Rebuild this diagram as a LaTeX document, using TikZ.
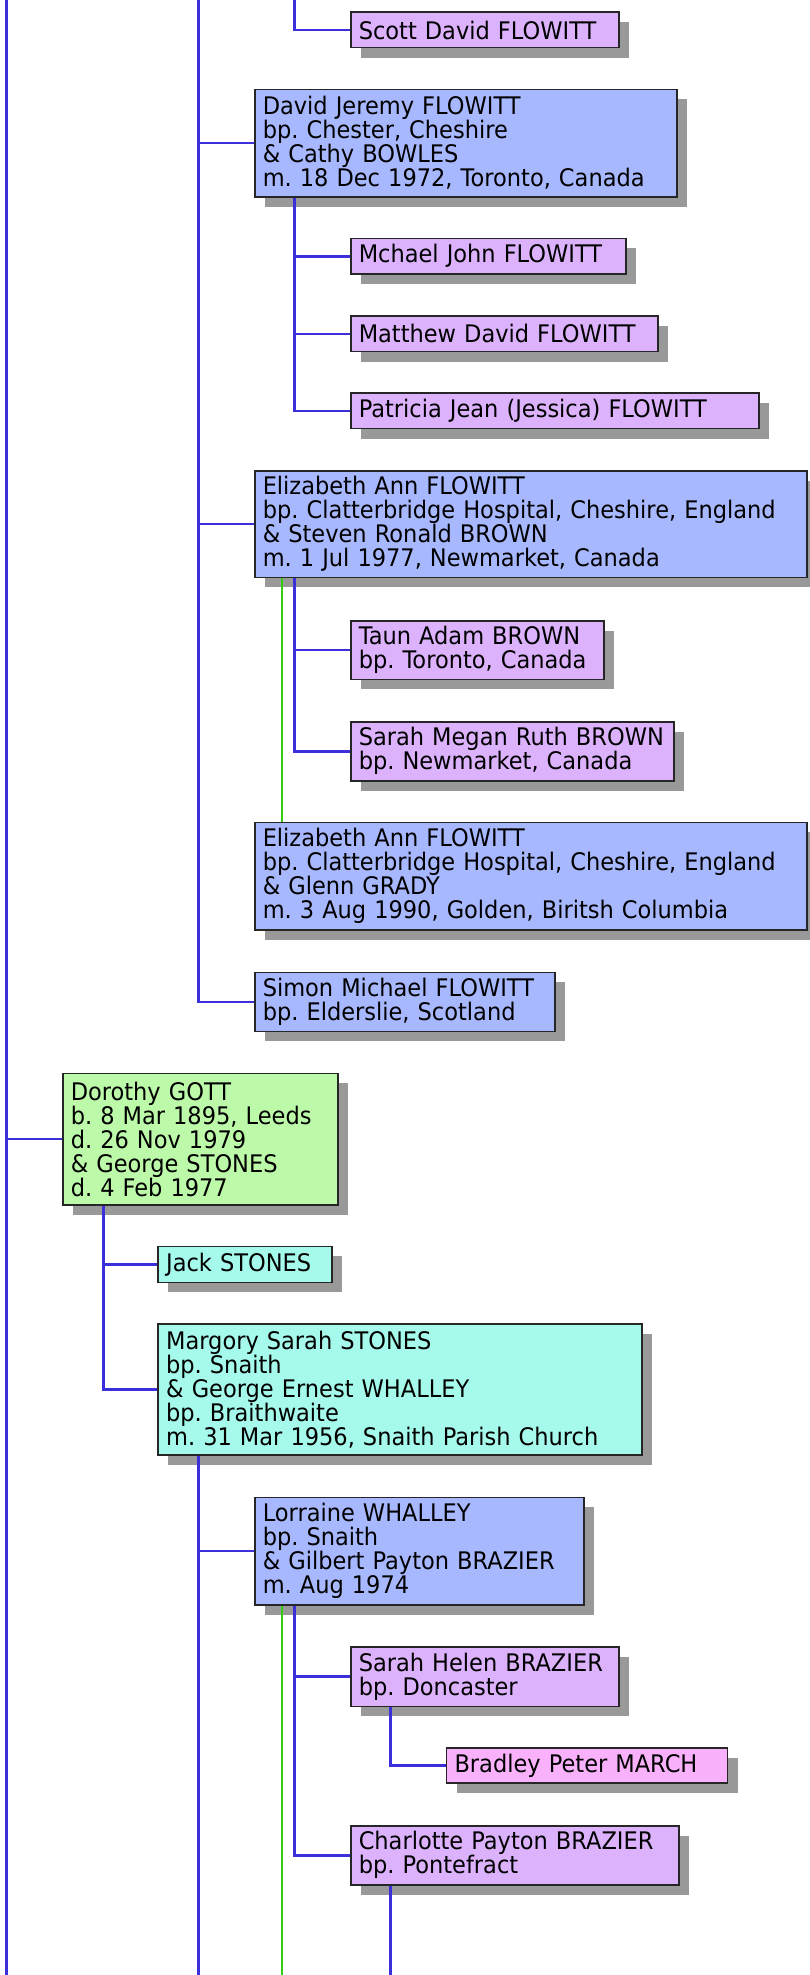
\documentclass[tikz,border=0pt]{standalone}
\usepackage{fontspec}
\setmainfont{DejaVu Sans}[FakeStretch=0.93]
\usetikzlibrary{calc,shadows}
\definecolor{kidpurple}{HTML}{DCB2FD}
\definecolor{famblue}{HTML}{A8B8FE}
\definecolor{famgreen}{HTML}{BCFAA9}
\definecolor{famcyan}{HTML}{A6FAEC}
\definecolor{kidpink}{HTML}{F8B1FA}
\definecolor{linkblue}{HTML}{3B2FDB}
\definecolor{linkgreen}{HTML}{33CC11}
\frenchspacing

\begin{document}
\begin{tikzpicture}[x=1pt,y=-1pt,
  person/.style={draw=black!85,line width=1.5pt,anchor=north west,align=left,
    inner xsep=8pt,inner ysep=0pt,font=\fontsize{24.2}{24}\selectfont,
    drop shadow={shadow xshift=10pt,shadow yshift=-10pt,fill=black!40,opacity=1}},
  kin/.style={draw=linkblue,line width=2.6pt},
  rekin/.style={draw=linkgreen,line width=2.4pt}]
\useasboundingbox (0,0) rectangle (809,1975);

\draw node [person,fill=kidpurple,text width=252pt,minimum height=35.5pt] (scott) at (350,11.5) {Scott David FLOWITT};
\draw node [person,fill=famblue,text width=406pt,minimum height=107.5pt] (david) at (254,88.5) {David Jeremy FLOWITT\\bp. Chester, Cheshire\\\& Cathy BOWLES\\m. 18 Dec 1972, Toronto, Canada};
\draw node [person,fill=kidpurple,text width=259pt,minimum height=35.5pt] (mchael) at (350,237.7) {Mchael John FLOWITT};
\draw node [person,fill=kidpurple,text width=291pt,minimum height=35.5pt] (matthew) at (350,315.3) {Matthew David FLOWITT};
\draw node [person,fill=kidpurple,text width=392pt,minimum height=35.5pt] (patricia) at (350,392.3) {Patricia Jean (Jessica) FLOWITT};
\draw node [person,fill=famblue,text width=536pt,minimum height=106.7pt] (eliza1) at (254,470) {Elizabeth Ann FLOWITT\\bp. Clatterbridge Hospital, Cheshire, England\\\& Steven Ronald BROWN\\m. 1 Jul 1977, Newmarket, Canada};
\draw node [person,fill=kidpurple,text width=237pt,minimum height=58.5pt] (taun) at (350,620) {Taun Adam BROWN\\bp. Toronto, Canada};
\draw node [person,fill=kidpurple,text width=307pt,minimum height=59pt] (sarahm) at (350,721) {Sarah Megan Ruth BROWN\\bp. Newmarket, Canada};
\draw node [person,fill=famblue,text width=536pt,minimum height=107.5pt] (eliza2) at (254,821.7) {Elizabeth Ann FLOWITT\\bp. Clatterbridge Hospital, Cheshire, England\\\& Glenn GRADY\\m. 3 Aug 1990, Golden, Biritsh Columbia};
\draw node [person,fill=famblue,text width=284pt,minimum height=59pt] (simon) at (254,971.7) {Simon Michael FLOWITT\\bp. Elderslie, Scotland};
\draw node [person,fill=famgreen,text width=259pt,minimum height=131.3pt] (dorothy) at (62,1072.7) {Dorothy GOTT\\b. 8 Mar 1895, Leeds\\d. 26 Nov 1979\\\& George STONES\\d. 4 Feb 1977};
\draw node [person,fill=famcyan,text width=158pt,minimum height=36pt] (jack) at (157.4,1245.7) {Jack STONES};
\draw node [person,fill=famcyan,text width=468pt,minimum height=131pt] (margory) at (157.4,1323.3) {Margory Sarah STONES\\bp. Snaith\\\& George Ernest WHALLEY\\bp. Braithwaite\\m. 31 Mar 1956, Snaith Parish Church};
\draw node [person,fill=famblue,text width=313pt,minimum height=107.3pt] (lorraine) at (254,1496.7) {Lorraine WHALLEY\\bp. Snaith\\\& Gilbert Payton BRAZIER\\m. Aug 1974};
\draw node [person,fill=kidpurple,text width=252pt,minimum height=59.7pt] (sarahh) at (350,1646) {Sarah Helen BRAZIER\\bp. Doncaster};
\draw node [person,fill=kidpink,text width=265pt,minimum height=35pt] (bradley) at (445.8,1747.3) {Bradley Peter MARCH};
\draw node [person,fill=kidpurple,text width=312pt,minimum height=59pt] (charlotte) at (350,1825) {Charlotte Payton BRAZIER\\bp. Pontefract};

\coordinate (rootA) at (6.2,0);
\coordinate (rootB) at (6.2,1975);
\draw[kin] (rootA) -- (rootB);
\draw[kin] (dorothy.west) -- (dorothy.west -| rootA);

\coordinate (flowA) at (198.7,0);
\draw[kin] (flowA) |- (simon.west);
\draw[kin] (david.west) -- (david.west -| flowA);
\draw[kin] (eliza1.west) -- (eliza1.west -| flowA);

\coordinate (scottA) at (294.6,0);
\draw[kin] (scottA) |- (scott.west);

\coordinate (davidkids) at ($(david.south west)+(40.6,0)$);
\draw[kin] (davidkids) |- (patricia.west);
\draw[kin] (mchael.west) -- (mchael.west -| davidkids);
\draw[kin] (matthew.west) -- (matthew.west -| davidkids);

\coordinate (elizakids) at ($(eliza1.south west)+(40.6,0)$);
\draw[kin] (elizakids) |- (sarahm.west);
\draw[kin] (taun.west) -- (taun.west -| elizakids);
\draw[rekin] ($(eliza1.south west)+(27.7,0)$) -- ($(eliza2.north west)+(27.7,0)$);

\coordinate (dorokids) at ($(dorothy.south west)+(41.2,0)$);
\draw[kin] (dorokids) |- (margory.west);
\draw[kin] (jack.west) -- (jack.west -| dorokids);

\coordinate (margkids) at ($(margory.south west)+(41.3,0)$);
\draw[kin] (margkids) -- (margkids |- rootB);
\draw[kin] (lorraine.west) -- (lorraine.west -| margkids);

\coordinate (lorrkids) at ($(lorraine.south west)+(40.6,0)$);
\coordinate (lorrgreen) at ($(lorraine.south west)+(27.7,0)$);
\draw[kin] (lorrkids) |- (charlotte.west);
\draw[kin] (sarahh.west) -- (sarahh.west -| lorrkids);
\draw[rekin] (lorrgreen) -- (lorrgreen |- rootB);

\coordinate (sarahkids) at ($(sarahh.south west)+(40.6,0)$);
\draw[kin] (sarahkids) |- (bradley.west);

\coordinate (charlkids) at ($(charlotte.south west)+(40.6,0)$);
\draw[kin] (charlkids) -- (charlkids |- rootB);

\end{tikzpicture}
\end{document}
